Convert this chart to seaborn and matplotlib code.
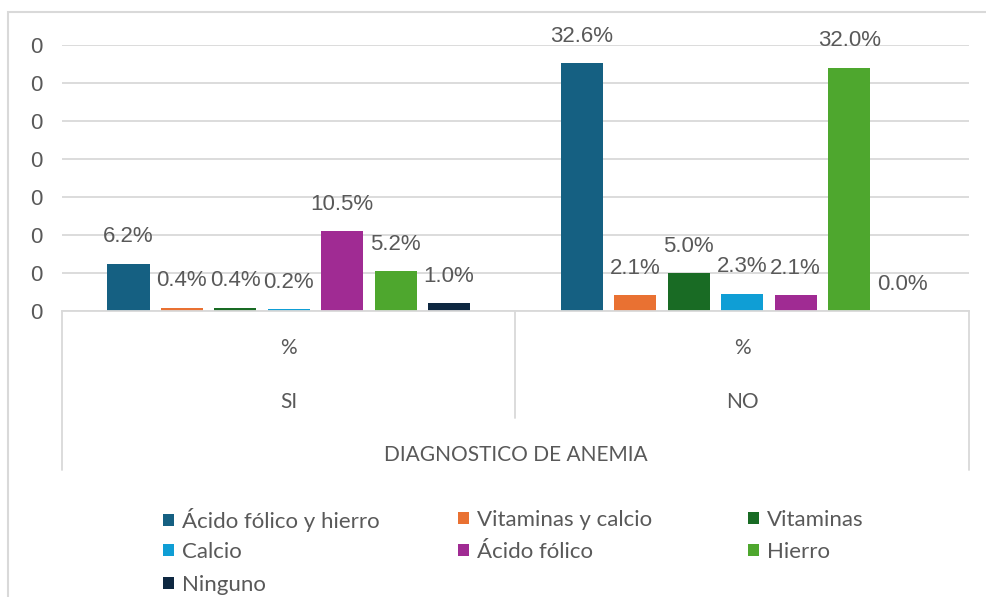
import matplotlib
matplotlib.use("Agg")
import matplotlib.pyplot as plt
import seaborn as sns
import pandas as pd
from matplotlib.patches import Patch, Rectangle

groups = ["SI", "NO"]
series = ["Ácido fólico y hierro", "Vitaminas y calcio", "Vitaminas", "Calcio",
          "Ácido fólico", "Hierro", "Ninguno"]
si_values = [0.062, 0.004, 0.004, 0.002, 0.105, 0.052, 0.010]
no_values = [0.326, 0.021, 0.050, 0.023, 0.021, 0.320, 0.000]
colors = ["#156082", "#E97132", "#196B24", "#0F9ED5", "#A02B93", "#4EA72E", "#0E2841"]
sub_label = "%"
axis_title = "DIAGNOSTICO DE ANEMIA"
y_ticks = [0, 0.05, 0.10, 0.15, 0.20, 0.25, 0.30, 0.35]

rows = []
for g, vals in zip(groups, [si_values, no_values]):
    for s, v in zip(series, vals):
        rows.append({"group": g, "series": s, "value": v})
df = pd.DataFrame(rows)

sns.set_theme(style="white")
plt.rcParams["font.family"] = ["Liberation Sans", "DejaVu Sans"]

W, H = 987, 597
fig = plt.figure(figsize=(W / 100, H / 100), dpi=100)
ax_left, ax_right, ax_top, ax_bot = 62, 969, 45, 311
ax = fig.add_axes([ax_left / W, 1 - ax_bot / H, (ax_right - ax_left) / W, (ax_bot - ax_top) / H])

palette = dict(zip(series, colors))
sns.barplot(data=df, x="group", y="value", hue="series", hue_order=series,
            order=groups, palette=palette, width=0.825, gap=0.21, saturation=1,
            linewidth=0, legend=False, ax=ax, errorbar=None)

ax.set_xlim(-0.5, 1.5)
ax.set_ylim(0, 0.35)
ax.set_yticks(y_ticks)
ax.set_yticklabels([f"{t:.0f}" for t in y_ticks])
ax.tick_params(axis="y", length=0, pad=14, labelsize=16, labelcolor="#595959")
ax.set_xticks([])
ax.set_xlabel("")
ax.set_ylabel("")
ax.grid(axis="y", color="#d9d9d9", linewidth=1.3)
ax.set_axisbelow(True)
for side in ["left", "right", "top"]:
    ax.spines[side].set_visible(False)
ax.spines["bottom"].set_color("#d9d9d9")
ax.spines["bottom"].set_linewidth(1.3)

# data labels
for cont, s in zip(ax.containers, series):
    for bar in cont:
        h = bar.get_height()
        ax.annotate(f"{h:.1%}", xy=(bar.get_x() + bar.get_width() / 2, h),
                    xytext=(0, 27), textcoords="offset pixels",
                    ha="center", va="center", fontsize=16, color="#595959",
                    annotation_clip=False)

# multi-level category axis
axh = ax_bot - ax_top
def yfrac(py):
    return (ax_bot - py) / axh
for xf, bottom in [(0, 470), (0.5, 418), (1, 470)]:
    ax.plot([xf, xf], [0, yfrac(bottom)], transform=ax.transAxes, color="#d9d9d9",
            lw=1.3, clip_on=False)
cat_font = ["Lato", "DejaVu Sans"]
for i, g in enumerate(groups):
    xf = (i + 0.5) / len(groups)
    ax.text(xf, yfrac(348), sub_label, transform=ax.transAxes, ha="center", va="center",
            fontsize=15, color="#595959", family=cat_font)
    ax.text(xf, yfrac(402), g, transform=ax.transAxes, ha="center", va="center",
            fontsize=15, color="#595959", family=cat_font)
ax.text(0.5, yfrac(455), axis_title, transform=ax.transAxes, ha="center", va="center",
        fontsize=15, color="#595959", family=cat_font)

# chart border
fig.patches.append(Rectangle((8 / W, -0.1), 1.2, 1 - 12 / H + 0.1, transform=fig.transFigure,
                             fill=False, edgecolor="#d9d9d9", lw=1.5))

# legend entries, row-major in three columns like the reference
col_x = [163, 458, 748]
row_y = [520, 552, 585]
for k, (s, c) in enumerate(zip(series, colors)):
    cx = col_x[k % 3]
    cy = row_y[k // 3]
    h = Patch(facecolor=c, edgecolor="none", label=s)
    leg = fig.legend(handles=[h], loc="center left", bbox_to_anchor=(cx / W, 1 - cy / H),
                     frameon=False, borderpad=0, borderaxespad=0, handlelength=0.5,
                     handleheight=0.5, handletextpad=0.35,
                     prop={"family": cat_font, "size": 16})
    for t in leg.get_texts():
        t.set_color("#595959")

fig.savefig("out.png", dpi=100)
